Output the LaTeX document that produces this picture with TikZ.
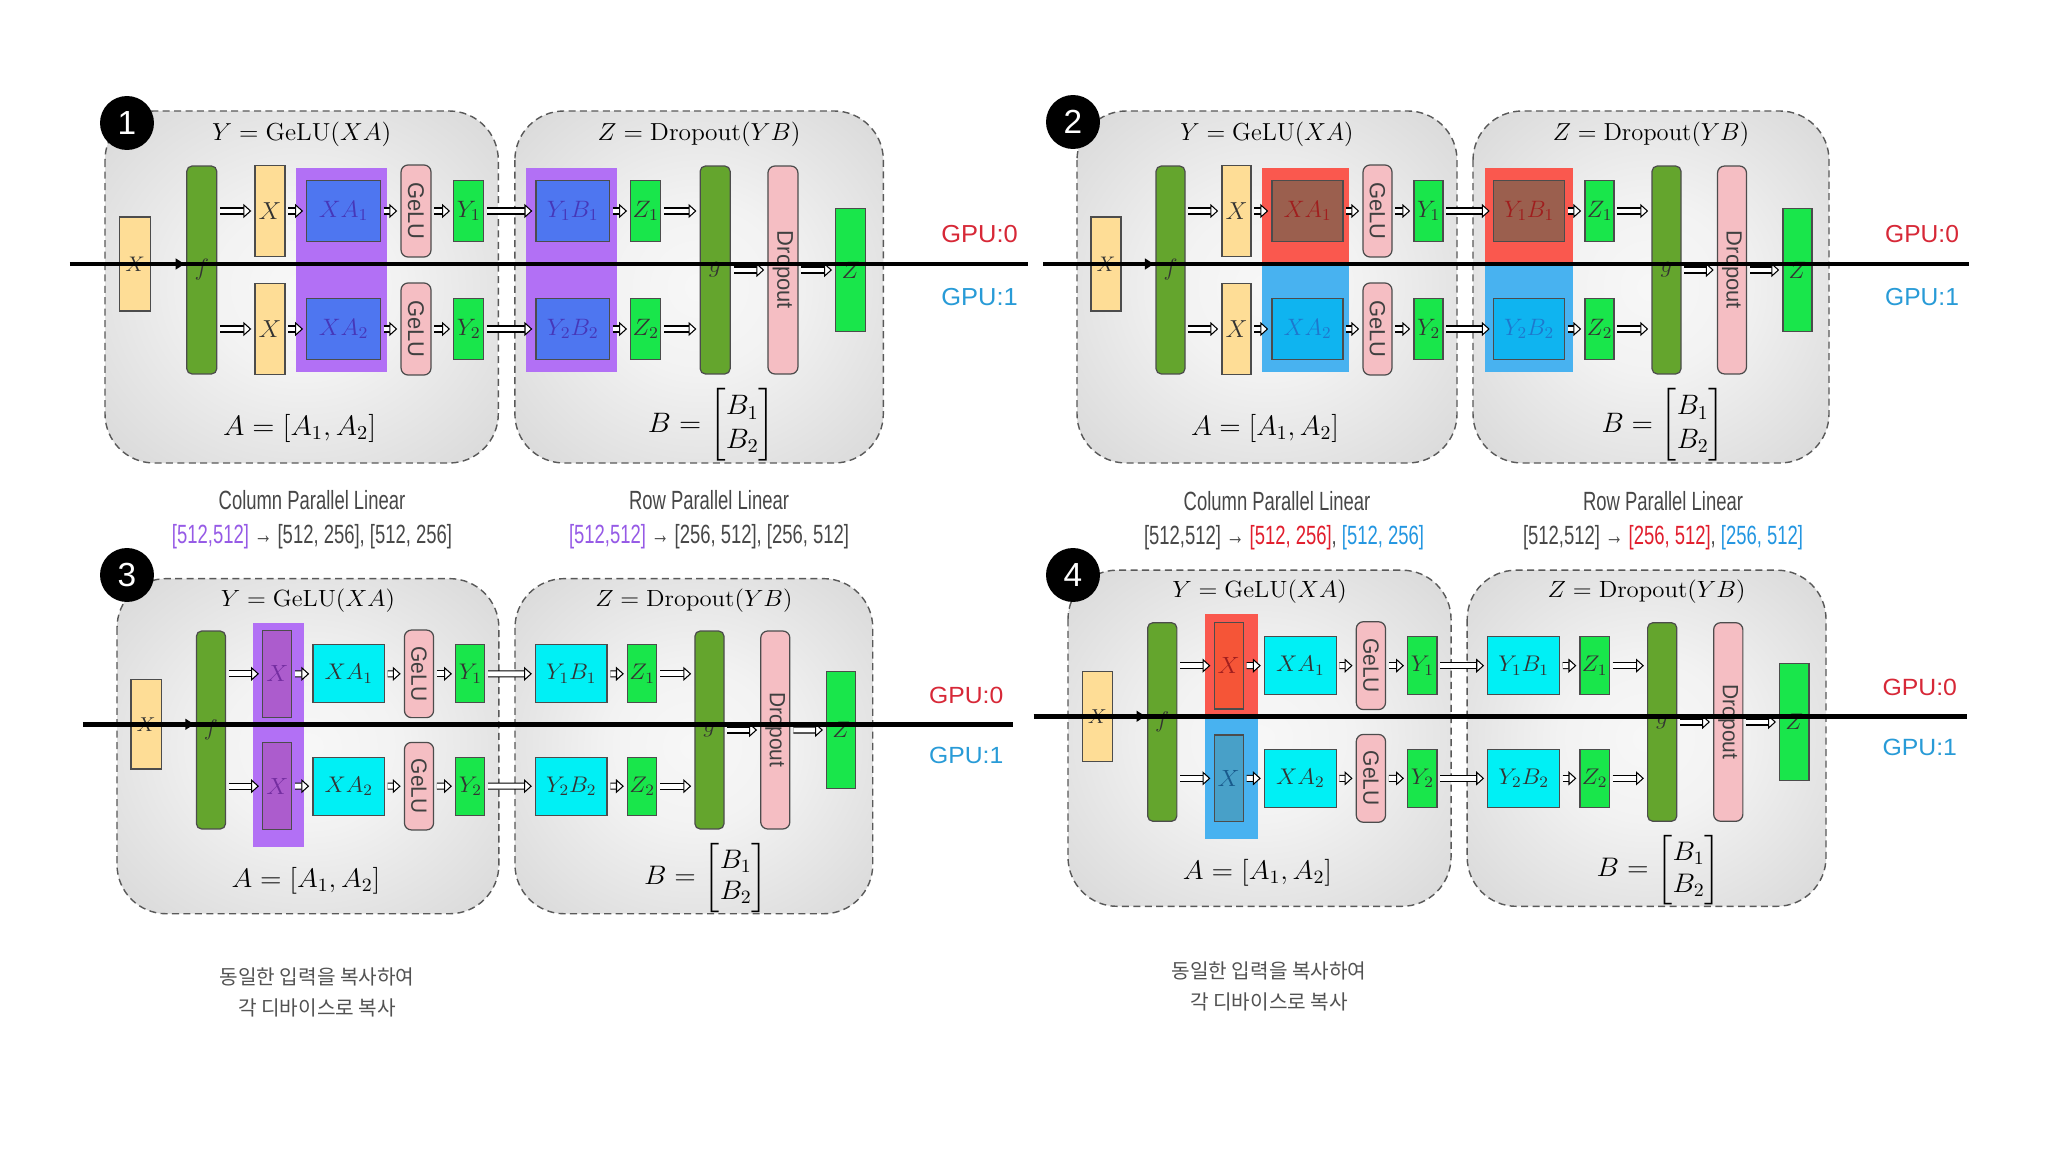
\RequirePackage{fix-cm}
\documentclass[tikz,border=0pt]{standalone}
\usepackage{amsmath}
\usepackage{graphicx}
\usepackage{fontspec}
\usetikzlibrary{arrows.meta}

\newfontfamily\hel{Liberation Sans}
\newfontfamily\capfont[FakeStretch=0.7]{Liberation Sans}
\newfontfamily\krfont{Noto Sans CJK KR}

\definecolor{xyellow}{RGB}{254,221,150}
\definecolor{fgreen}{RGB}{100,165,45}
\definecolor{ygreen}{RGB}{25,230,75}
\definecolor{pinkbox}{RGB}{245,190,195}
\definecolor{bluebox}{RGB}{78,118,240}
\definecolor{bluetext}{RGB}{70,55,185}
\definecolor{hlpurple}{RGB}{178,112,245}
\definecolor{hlred}{RGB}{250,88,78}
\definecolor{hlblue}{RGB}{72,178,240}
\definecolor{brownbox}{RGB}{155,95,78}
\definecolor{redtext}{RGB}{160,30,30}
\definecolor{skybox}{RGB}{15,180,240}
\definecolor{skytext}{RGB}{30,120,205}
\definecolor{cyanbox}{RGB}{0,240,245}
\definecolor{xpurple}{RGB}{172,92,205}
\definecolor{purptext}{RGB}{115,45,160}
\definecolor{xred}{RGB}{245,85,55}
\definecolor{xsteel}{RGB}{72,160,200}
\definecolor{steeltext}{RGB}{25,90,140}
\definecolor{gpured}{RGB}{215,40,55}
\definecolor{gpublue}{RGB}{40,155,215}
\definecolor{cappurple}{RGB}{150,90,230}
\definecolor{capred}{RGB}{225,30,45}
\definecolor{capblue}{RGB}{35,150,225}

\pgfdeclareradialshading{boxshade}{\pgfpoint{0bp}{0bp}}{color(0bp)=(black!3); color(12bp)=(black!5); color(35bp)=(black!15); color(50bp)=(black!24); color(72bp)=(black!34)}

\tikzset{
  panelbox/.style={draw=black!65, line width=0.8pt, dash pattern=on 4pt off 2.5pt, rounded corners=28pt, shade, shading=boxshade},
  cellbox/.style={draw=black!70, line width=0.7pt, inner sep=0pt, text=black!80, font=\fontsize{13.5}{13.5}\selectfont},
  xin/.style={cellbox, fill=xyellow, minimum width=0.6cm, minimum height=1.88cm, font=\fontsize{12}{12}\selectfont},
  xcol/.style={cellbox, minimum width=0.58cm, minimum height=1.82cm, font=\fontsize{14}{14}\selectfont},
  barbox/.style={cellbox, rounded corners=3pt, minimum width=0.58cm, minimum height=4.16cm},
  gelubox/.style={cellbox, fill=pinkbox, rounded corners=4pt, minimum width=0.58cm, minimum height=1.84cm, text=black!75, font=\hel\fontsize{12.5}{12.5}\selectfont},
  mulbox/.style={cellbox, minimum width=1.42cm, minimum height=1.22cm},
  ybox/.style={cellbox, fill=ygreen, minimum width=0.58cm, minimum height=1.22cm},
  zbox/.style={cellbox, fill=ygreen, minimum width=0.58cm, minimum height=2.46cm},
  xtop/.style={fill=xyellow}, xbot/.style={fill=xyellow},
  mtop/.style={fill=cyanbox}, mbot/.style={fill=cyanbox},
  harrow/.style={double=white, double distance=2.8pt, line width=0.6pt,
    -{Triangle[open, fill=white, length=4.5pt, width=8pt, line width=0.6pt]}, shorten <=1.5pt, shorten >=1.8pt},
  darrow/.style={line width=2.4pt, -{Latex[length=6pt, width=7pt]}},
  gpuline/.style={line width=2.6pt},
  ttltext/.style={font=\fontsize{14}{14}\selectfont},
  eqtext/.style={font=\fontsize{16}{19}\selectfont},
  gputext/.style={font=\hel\fontsize{14}{14}\selectfont},
  numdot/.style={circle, fill=black, text=white, minimum size=1.08cm, inner sep=0pt, font=\hel\fontsize{19}{19}\selectfont},
  captext/.style={font=\capfont\fontsize{15}{15}\selectfont, text=black!72},
  kortext/.style={font=\krfont\fontsize{11.5}{17.6}\selectfont, text=black!68, align=center}
}

% gray frames, titles and equations of one panel
\newcommand\mlpframe{%
  \draw[panelbox] (0,-159) rectangle (380,193);
  \draw[panelbox] (396,-159) rectangle (752,193);
  \node[ttltext] (ttly) at (190,-136) {$Y=\mathrm{GeLU}(XA)$};
  \node[ttltext] (ttlz) at (574,-136) {$Z=\mathrm{Dropout}(YB)$};
  \node[eqtext] (eqa) at (188,158) {$A=[A_1,A_2]$};
  \node[eqtext] (eqb) at (586,155) {$B=\begin{bmatrix}B_1\\B_2\end{bmatrix}$};
}

% boxes, arrows and the GPU line of one panel
\newcommand\mlpnodes{%
  \node[xin] (xin) at (29,-6) {$X$};
  \node[barbox, fill=fgreen] (f) at (93.5,0) {$f$};
  \node[xcol, xtop] (x1) at (159.5,-59) {$X$};
  \node[xcol, xbot] (x2) at (159.5,59) {$X$};
  \node[mulbox, mtop] (xa1) at (230.5,-59) {$XA_1$};
  \node[mulbox, mbot] (xa2) at (230.5,59) {$XA_2$};
  \node[gelubox] (ge1) at (300.5,-59) {\rotatebox{-90}{GeLU}};
  \node[gelubox] (ge2) at (300.5,59) {\rotatebox{-90}{GeLU}};
  \node[ybox] (y1) at (351.5,-59) {$Y_1$};
  \node[ybox] (y2) at (351.5,59) {$Y_2$};
  \node[mulbox, mtop] (yb1) at (452,-59) {$Y_1B_1$};
  \node[mulbox, mbot] (yb2) at (452,59) {$Y_2B_2$};
  \node[ybox] (z1) at (522.5,-59) {$Z_1$};
  \node[ybox] (z2) at (522.5,59) {$Z_2$};
  \node[barbox, fill=fgreen] (g) at (589.5,0) {$g$};
  \node[barbox, fill=pinkbox, rounded corners=4pt, text=black!75, font=\hel\fontsize{12.5}{12.5}\selectfont] (drop) at (655,0) {\rotatebox{-90}{Dropout}};
  \node[zbox] (zout) at (720.5,0) {$Z$};
  \draw[harrow] (f.east |- x1.west) -- (x1.west);
  \draw[harrow] (f.east |- x2.west) -- (x2.west);
  \foreach \a/\b in {x1/xa1, xa1/ge1, ge1/y1, y1/yb1, yb1/z1, x2/xa2, xa2/ge2, ge2/y2, y2/yb2, yb2/z2, g/drop, drop/zout}
    \draw[harrow] (\a) -- (\b);
  \draw[harrow] (z1.east) -- (z1.east -| g.west);
  \draw[harrow] (z2.east) -- (z2.east -| g.west);
  \draw[gpuline] (-34,-6) -- (892,-6);
  \draw[darrow] (xin.east) -- (xin.east -| f.west);
  \node[gputext, text=gpured] (gpu0) at (845,-36) {GPU:0};
  \node[gputext, text=gpublue] (gpu1) at (845,27) {GPU:1};
}

\begin{document}
\begin{tikzpicture}[x=0.02cm, y=-0.02cm]
\fill[white] (0,0) rectangle (2048,1152);
\useasboundingbox (0,0) rectangle (2048,1152);

% 1: column split, purple
\begin{scope}[shift={(105,270)}, xscale=1.035, transform shape,
    mtop/.style={fill=bluebox, text=bluetext}, mbot/.style={fill=bluebox, text=bluetext}]
  \mlpframe
  \fill[hlpurple] (185,-102) rectangle (272,102);
  \fill[hlpurple] (407,-102) rectangle (495,102);
  \mlpnodes
\end{scope}

% 2: column split, red / blue
\begin{scope}[shift={(1077,270)}, transform shape,
    mtop/.style={fill=brownbox, text=redtext}, mbot/.style={fill=skybox, text=skytext}]
  \mlpframe
  \fill[hlred] (185,-102) rectangle (272,-6);
  \fill[hlblue] (185,-6) rectangle (272,102);
  \fill[hlred] (408,-102) rectangle (496,-6);
  \fill[hlblue] (408,-6) rectangle (496,102);
  \mlpnodes
\end{scope}

% 3: copied input, purple
\begin{scope}[shift={(117,730)}, xscale=1.005, yscale=0.952, transform shape,
    xtop/.style={fill=xpurple, text=purptext}, xbot/.style={fill=xpurple, text=purptext}]
  \mlpframe
  \fill[hlpurple] (135,-112) rectangle (186,123);
  \mlpnodes
\end{scope}

% 4: copied input, red / blue
\begin{scope}[shift={(1068,722)}, xscale=1.008, yscale=0.955, transform shape,
    xtop/.style={fill=xred, text=redtext}, xbot/.style={fill=xsteel, text=steeltext}]
  \mlpframe
  \fill[hlred] (136,-113) rectangle (188,-6);
  \fill[hlblue] (136,-6) rectangle (188,123);
  \mlpnodes
\end{scope}

\node[numdot] (n1) at (127,123) {1};
\node[numdot] (n2) at (1073,122) {2};
\node[numdot] (n3) at (127,575) {3};
\node[numdot] (n4) at (1073,575) {4};

\node[captext] (col1) at (312,500) {Column Parallel Linear};
\node[captext] (col1d) at (312,537) {\textcolor{cappurple}{[512,512]} → [512, 256], [512, 256]};
\node[captext] (row1) at (709,500) {Row Parallel Linear};
\node[captext] (row1d) at (709,537) {\textcolor{cappurple}{[512,512]} → [256, 512], [256, 512]};
\node[captext] (col2) at (1277,501) {Column Parallel Linear};
\node[captext] (col2d) at (1284,538) {[512,512] → \textcolor{capred}{[512, 256]}, \textcolor{capblue}{[512, 256]}};
\node[captext] (row2) at (1663,501) {Row Parallel Linear};
\node[captext] (row2d) at (1663,538) {[512,512] → \textcolor{capred}{[256, 512]}, \textcolor{capblue}{[256, 512]}};

\node[kortext] (kor3) at (317,992) {동일한 입력을 복사하여\\각 디바이스로 복사};
\node[kortext] (kor4) at (1269,986) {동일한 입력을 복사하여\\각 디바이스로 복사};
\end{tikzpicture}
\end{document}
